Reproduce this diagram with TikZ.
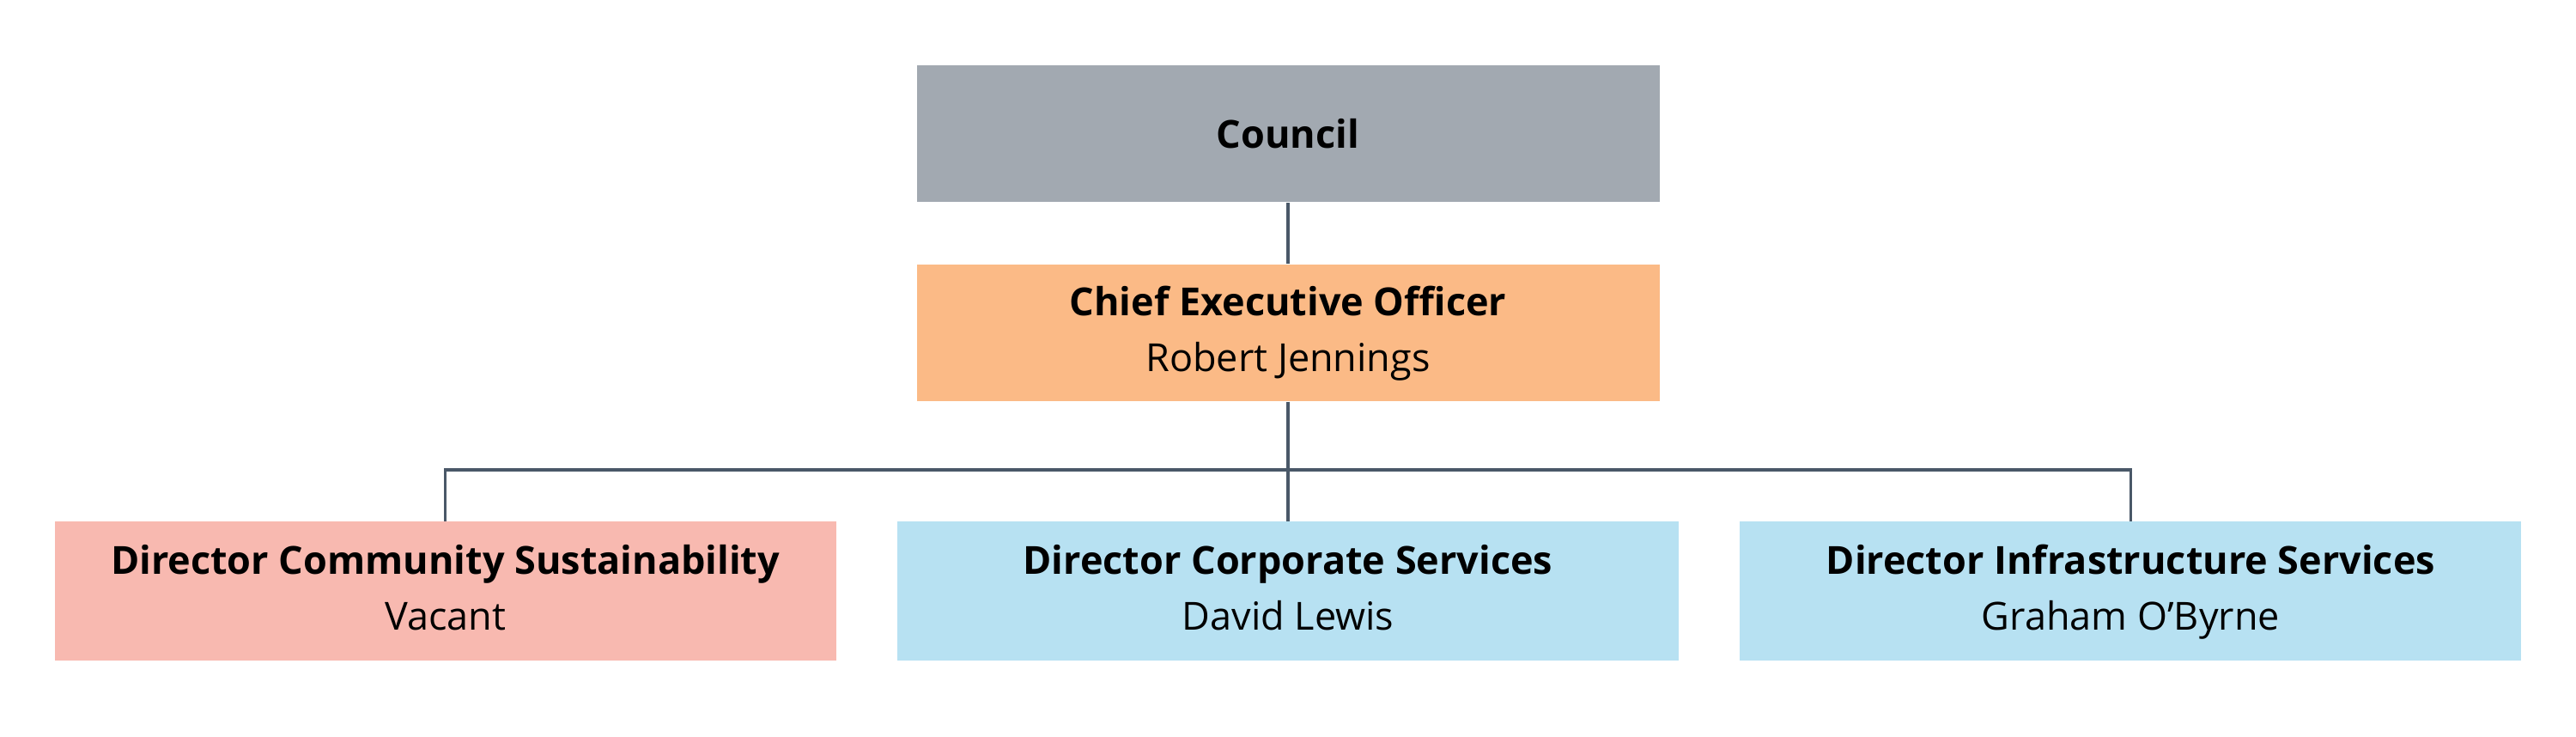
\documentclass[tikz,border=0pt]{standalone}
\usepackage{fontspec}
\setmainfont{Open Sans}
\usepackage{tikz}
\usetikzlibrary{positioning,calc}
\definecolor{OrgGrey}{HTML}{A2A9B1}
\definecolor{OrgOrange}{HTML}{FBBA86}
\definecolor{OrgPink}{HTML}{F8B9B0}
\definecolor{OrgBlue}{HTML}{B7E1F2}
\definecolor{OrgLine}{HTML}{4A5868}
\newcommand{\rolename}[2]{\textbf{#1}\strut\\#2\strut}

\begin{document}
\begin{tikzpicture}[
  node distance=7.1mm and 7mm,
  role/.style={minimum width=86.5mm, minimum height=15.9mm, align=center, inner sep=1mm, font=\fontsize{12.8}{18.5}\selectfont},
  director/.style={role, minimum width=91mm, minimum height=16.2mm},
  link/.style={draw=OrgLine, line width=0.9pt}
]
  \useasboundingbox (0,0) rectangle (30,8.58);

  \node[role, fill=OrgGrey] (council) at (15,7.02) {\textbf{Council}};
  \node[role, fill=OrgOrange, below=of council] (ceo) {\rolename{Chief Executive Officer}{Robert Jennings}};

  \node[director, fill=OrgBlue, below=13.9mm of ceo] (dcorp) {\rolename{Director Corporate Services}{David Lewis}};
  \node[director, fill=OrgPink, left=of dcorp] (dcomm) {\rolename{Director Community Sustainability}{Vacant}};
  \node[director, fill=OrgBlue, right=of dcorp] (dinfra) {\rolename{Director Infrastructure Services}{Graham O'Byrne}};

  \coordinate (bar) at (15,3.11);

  \draw[link] (council) -- (ceo);
  \draw[link] (ceo) -- (dcorp);
  \draw[link] (dcomm.north) |- (bar) -| (dinfra.north);
\end{tikzpicture}
\end{document}
